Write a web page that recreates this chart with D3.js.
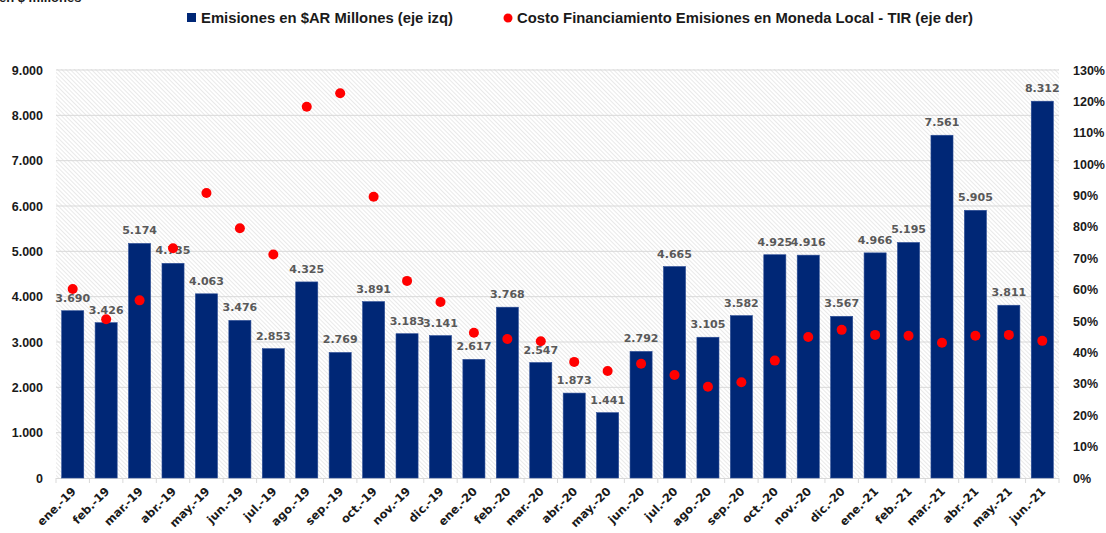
<!DOCTYPE html>
<html>
<head>
  <meta charset="utf-8">
  <title>Emisiones en moneda local</title>
  <script type="text/javascript" src="https://d3js.org/d3.v7.min.js"></script>
  <style>
    body { margin: 0; background: #fff; }
    .axis-lbl { font-family: "Liberation Sans", Arial, sans-serif; font-weight: bold; font-size: 12.5px; fill: #1a1a1a; }
    .x-lbl { font-family: "DejaVu Sans", Verdana, sans-serif; font-weight: bold; font-size: 11.5px; fill: #1a1a1a; }
    .val-lbl { font-family: "DejaVu Sans", Verdana, sans-serif; font-weight: bold; font-size: 11px; fill: #595959; }
    .legend { font-family: "Liberation Sans Narrow", "Liberation Sans", Arial, sans-serif; font-weight: bold; font-size: 15px; fill: #1a1a1a; }
  </style>
</head>
<body>
<script type="text/javascript">
  var months = ["ene.-19","feb.-19","mar.-19","abr.-19","may.-19","jun.-19","jul.-19","ago.-19","sep.-19","oct.-19","nov.-19","dic.-19",
                "ene.-20","feb.-20","mar.-20","abr.-20","may.-20","jun.-20","jul.-20","ago.-20","sep.-20","oct.-20","nov.-20","dic.-20",
                "ene.-21","feb.-21","mar.-21","abr.-21","may.-21","jun.-21"];
  // emisiones en $AR millones (eje izq)
  var emisiones = [3690, 3426, 5174, 4735, 4063, 3476, 2853, 4325, 2769, 3891, 3183, 3141,
                   2617, 3768, 2547, 1873, 1441, 2792, 4665, 3105, 3582, 4925, 4916, 3567,
                   4966, 5195, 7561, 5905, 3811, 8312];
  // costo financiamiento TIR en % (eje der)
  var tir = [60.2, 50.6, 56.6, 73.2, 90.8, 79.6, 71.2, 118.3, 122.6, 89.6, 62.8, 56.1,
             46.3, 44.3, 43.6, 37.0, 34.1, 36.4, 32.8, 29.1, 30.5, 37.4, 44.9, 47.2,
             45.6, 45.3, 43.1, 45.3, 45.6, 43.7];
  var leftTicks = [0, 1000, 2000, 3000, 4000, 5000, 6000, 7000, 8000, 9000];
  var rightTicks = [0, 10, 20, 30, 40, 50, 60, 70, 80, 90, 100, 110, 120, 130];
  var legendLabels = ["Emisiones en $AR Millones (eje izq)", "Costo Financiamiento Emisiones en Moneda Local - TIR (eje der)"];

  var w = 1106, h = 533;
  var plotLeft = 56, plotRight = 1059, plotTop = 69, plotBottom = 478;

  var svg = d3.select("body").append("svg")
              .attr("width", w)
              .attr("height", h);

  // hatch pattern for plot background
  var defs = svg.append("defs");
  var pat = defs.append("pattern")
                .attr("id", "hatch")
                .attr("patternUnits", "userSpaceOnUse")
                .attr("width", 3)
                .attr("height", 3)
                .attr("patternTransform", "rotate(-45)");
  pat.append("rect").attr("width", 3).attr("height", 3).attr("fill", "#ffffff");
  pat.append("line").attr("x1", 0).attr("y1", 0).attr("x2", 0).attr("y2", 3)
     .attr("stroke", "#e0e0e0").attr("stroke-width", 1.4);

  var xScale = d3.scaleBand()
                 .domain(months)
                 .range([plotLeft, plotRight])
                 .paddingInner(0.34)
                 .paddingOuter(0.17);
  var yLeft = d3.scaleLinear().domain([0, 9000]).range([plotBottom, plotTop + 1]);
  var yRight = d3.scaleLinear().domain([0, 130]).range([plotBottom, plotTop + 1]);

  svg.append("rect")
     .attr("x", plotLeft).attr("y", plotTop)
     .attr("width", plotRight - plotLeft).attr("height", plotBottom - plotTop)
     .attr("fill", "url(#hatch)");

  // gridlines
  svg.append("g")
     .selectAll("line")
     .data(leftTicks.slice(1))
     .enter()
     .append("line")
     .attr("x1", plotLeft).attr("x2", plotRight)
     .attr("y1", function(d) {return yLeft(d);})
     .attr("y2", function(d) {return yLeft(d);})
     .attr("stroke", "#d9d9d9")
     .attr("stroke-width", 1);

  // left axis labels
  svg.append("g")
     .selectAll("text")
     .data(leftTicks)
     .enter()
     .append("text")
     .attr("class", "axis-lbl")
     .attr("x", 43)
     .attr("y", function(d) {return yLeft(d) + 4.5;})
     .attr("text-anchor", "end")
     .text(function(d) {return d3.format(",")(d).replace(/,/g, ".");});

  // right axis labels
  svg.append("g")
     .selectAll("text")
     .data(rightTicks)
     .enter()
     .append("text")
     .attr("class", "axis-lbl")
     .attr("x", 1073)
     .attr("y", function(d) {return yRight(d) + 4.5;})
     .attr("text-anchor", "start")
     .text(function(d) {return d + "%";});

  // x axis line and ticks between categories
  var step = xScale.step();
  svg.append("line")
     .attr("x1", plotLeft).attr("x2", plotRight)
     .attr("y1", plotBottom + 0.5).attr("y2", plotBottom + 0.5)
     .attr("stroke", "#d9d9d9");
  svg.append("g")
     .selectAll("line")
     .data(months.concat(["end"]))
     .enter()
     .append("line")
     .attr("x1", function(d, i) {return plotLeft + i * step;})
     .attr("x2", function(d, i) {return plotLeft + i * step;})
     .attr("y1", plotBottom)
     .attr("y2", plotBottom + 5)
     .attr("stroke", "#d9d9d9");

  // bars
  svg.append("g")
     .selectAll("rect")
     .data(emisiones)
     .enter()
     .append("rect")
     .attr("x", function(d, i) {return xScale(months[i]);})
     .attr("y", function(d) {return yLeft(d);})
     .attr("width", xScale.bandwidth())
     .attr("height", function(d) {return plotBottom - yLeft(d);})
     .attr("fill", "#002776")
     .attr("stroke", "#2c4d96")
     .attr("stroke-width", 0.6);

  // value labels
  svg.append("g")
     .selectAll("text")
     .data(emisiones)
     .enter()
     .append("text")
     .attr("class", "val-lbl")
     .attr("x", function(d, i) {return xScale(months[i]) + xScale.bandwidth() / 2;})
     .attr("y", function(d) {return yLeft(d) - 9;})
     .attr("text-anchor", "middle")
     .text(function(d) {return d3.format(",")(d).replace(/,/g, ".");});

  // TIR dots
  svg.append("g")
     .selectAll("circle")
     .data(tir)
     .enter()
     .append("circle")
     .attr("cx", function(d, i) {return xScale(months[i]) + xScale.bandwidth() / 2;})
     .attr("cy", function(d) {return yRight(d);})
     .attr("r", 5)
     .attr("fill", "#ff0000");

  // x labels
  svg.append("g")
     .selectAll("text")
     .data(months)
     .enter()
     .append("text")
     .attr("class", "x-lbl")
     .attr("text-anchor", "end")
     .attr("transform", function(d) {
       var cx = xScale(d) + xScale.bandwidth() / 2 + 4;
       return "translate(" + cx + "," + (plotBottom + 14) + ") rotate(-45)";
     })
     .text(function(d) {return d;});

  // legend
  svg.append("rect")
     .attr("x", 187).attr("y", 13)
     .attr("width", 9).attr("height", 9)
     .attr("fill", "#002776");
  svg.append("text")
     .attr("class", "legend")
     .attr("x", 201).attr("y", 23)
     .attr("textLength", 252)
     .attr("lengthAdjust", "spacingAndGlyphs")
     .text(legendLabels[0]);
  svg.append("circle")
     .attr("cx", 508).attr("cy", 18)
     .attr("r", 4.5)
     .attr("fill", "#ff0000");
  svg.append("text")
     .attr("class", "legend")
     .attr("x", 517).attr("y", 23)
     .attr("textLength", 456)
     .attr("lengthAdjust", "spacingAndGlyphs")
     .text(legendLabels[1]);

  // clipped unit note at the top-left corner
  svg.append("text")
     .attr("class", "legend")
     .attr("x", -1).attr("y", 2)
     .style("font-size", "13px")
     .text("en $ millones");
</script>
</body>
</html>
